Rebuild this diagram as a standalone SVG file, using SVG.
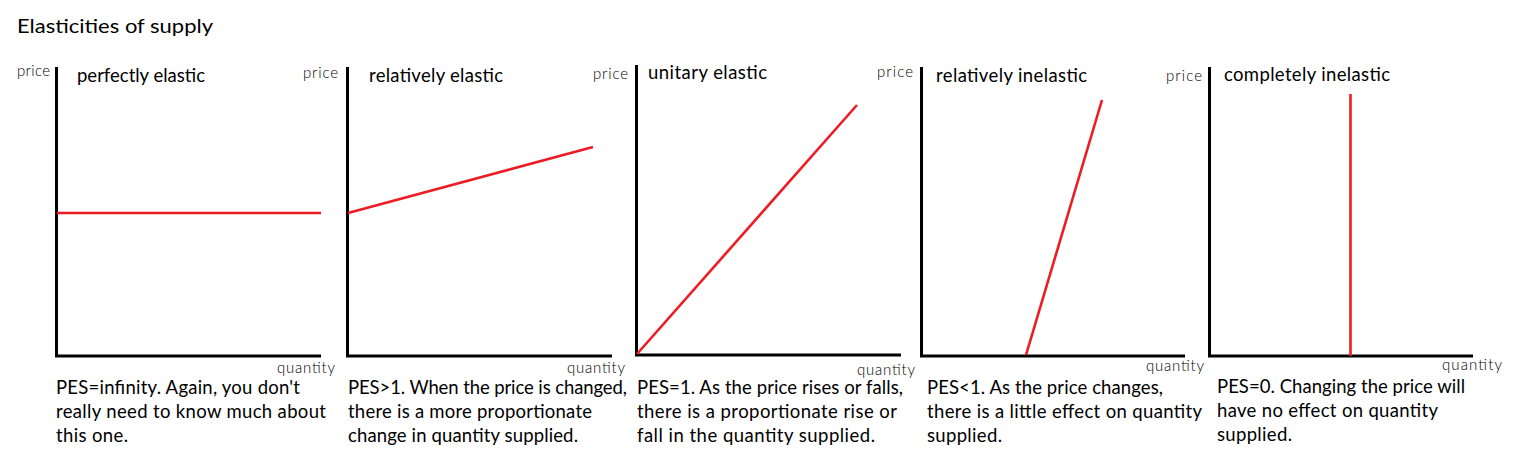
<svg xmlns="http://www.w3.org/2000/svg" width="1522" height="474" viewBox="0 0 1522 474">
<style>
text{font-family:Lato,"Open Sans","Liberation Sans",sans-serif;fill:#000}
.ttl{font-size:20px}
.gt{font-size:18.5px}
.cap{font-size:18.5px}
.ax{font-size:15px;font-weight:300}
.axis{stroke:#000;stroke-width:3;fill:none;stroke-linecap:butt}
.curve{stroke:#ED1C24;stroke-width:2.6;fill:none}
</style>
<rect width="1522" height="474" fill="#fff"/>
<text class="ttl" x="17" y="33" textLength="196" lengthAdjust="spacingAndGlyphs">Elasticities of supply</text>

<g id="perfectly-elastic">
<path class="axis" d="M56.5,67 V356 H321"/>
<line class="curve" x1="57" y1="213" x2="321" y2="213"/>
<text class="ax" x="17" y="76" textLength="33">price</text>
<text class="gt" x="77" y="82" textLength="128">perfectly elastic</text>
<text class="ax" x="277" y="373" textLength="58">quantity</text>
<text class="cap" x="56" y="394" textLength="244">PES=infinity. Again, you don't</text>
<text class="cap" x="56" y="418" textLength="270">really need to know much about</text>
<text class="cap" x="56" y="442" textLength="72">this one.</text>
</g>

<g id="relatively-elastic">
<path class="axis" d="M347.5,67 V356 H612"/>
<line class="curve" x1="348" y1="213" x2="593" y2="147"/>
<text class="ax" x="303" y="78" textLength="35">price</text>
<text class="gt" x="369" y="82" textLength="134">relatively elastic</text>
<text class="ax" x="567" y="373" textLength="58">quantity</text>
<text class="cap" x="348" y="394" textLength="279">PES&gt;1. When the price is changed,</text>
<text class="cap" x="348" y="418" textLength="244">there is a more proportionate</text>
<text class="cap" x="348" y="442" textLength="230">change in quantity supplied.</text>
</g>

<g id="unitary-elastic">
<path class="axis" d="M636.5,65 V355 H901"/>
<line class="curve" x1="637" y1="354" x2="857" y2="105"/>
<text class="ax" x="593" y="79" textLength="35">price</text>
<text class="gt" x="648" y="79" textLength="119">unitary elastic</text>
<text class="ax" x="857" y="375" textLength="58">quantity</text>
<text class="cap" x="637" y="394" textLength="266">PES=1. As the price rises or falls,</text>
<text class="cap" x="637" y="418" textLength="260">there is a proportionate rise or</text>
<text class="cap" x="637" y="442" textLength="238">fall in the quantity supplied.</text>
</g>

<g id="relatively-inelastic">
<path class="axis" d="M921.5,67 V356 H1185"/>
<line class="curve" x1="1026" y1="355" x2="1102" y2="100"/>
<text class="ax" x="877" y="77" textLength="36">price</text>
<text class="gt" x="936" y="82" textLength="151">relatively inelastic</text>
<text class="ax" x="1146" y="371" textLength="58">quantity</text>
<text class="cap" x="927" y="394" textLength="236">PES&lt;1. As the price changes,</text>
<text class="cap" x="927" y="418" textLength="275">there is a little effect on quantity</text>
<text class="cap" x="927" y="442" textLength="75">supplied.</text>
</g>

<g id="completely-inelastic">
<path class="axis" d="M1209.5,67 V356 H1473"/>
<line class="curve" x1="1350.5" y1="94" x2="1350.5" y2="356"/>
<text class="ax" x="1166" y="81" textLength="36">price</text>
<text class="gt" x="1224" y="81" textLength="166">completely inelastic</text>
<text class="ax" x="1442" y="370" textLength="60">quantity</text>
<text class="cap" x="1217" y="393" textLength="248">PES=0. Changing the price will</text>
<text class="cap" x="1217" y="417" textLength="221">have no effect on quantity</text>
<text class="cap" x="1217" y="441" textLength="75">supplied.</text>
</g>

<g id="connectors"></g>
</svg>
